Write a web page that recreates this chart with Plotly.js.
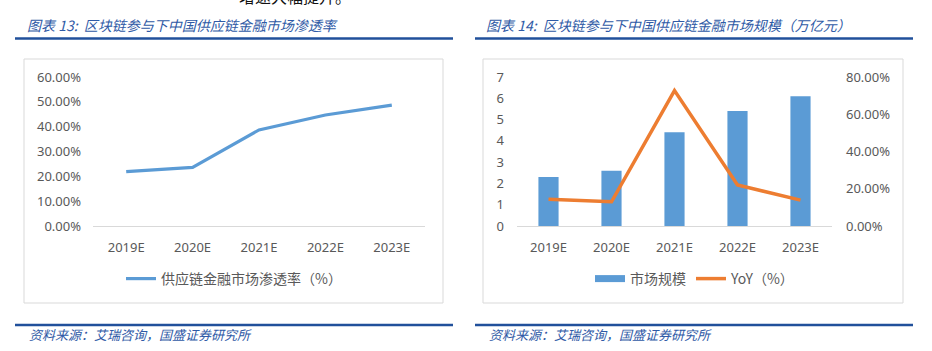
<!DOCTYPE html>
<html>
<head>
<meta charset="utf-8">
<script src="https://cdn.plot.ly/plotly-3.0.1.min.js"></script>
<style>html,body{margin:0;padding:0;background:#fff;}#chart{width:932px;height:351px;}</style>
</head>
<body>
<div id="chart"></div>
<script>
// ---- data ----
const categories = ["2019E", "2020E", "2021E", "2022E", "2023E"];
const penetrationRate = [0.219, 0.236, 0.387, 0.447, 0.487];   // 供应链金融市场渗透率
const marketSize = [2.3, 2.6, 4.4, 5.4, 6.1];                   // 市场规模（万亿元）
const yoy = [0.143, 0.130, 0.727, 0.220, 0.139];                // YoY
const leftTicks = [0, 0.1, 0.2, 0.3, 0.4, 0.5, 0.6];
const rightTicksSize = [0, 1, 2, 3, 4, 5, 6, 7];
const rightTicksYoy = [0, 0.2, 0.4, 0.6, 0.8];
const title13 = "图表 13:  区块链参与下中国供应链金融市场渗透率";
const title14 = "图表 14:  区块链参与下中国供应链金融市场规模（万亿元）";
const sourceText = "资料来源：艾瑞咨询，国盛证券研究所";
const seriesName1 = "供应链金融市场渗透率（%）";
const seriesName2 = "市场规模";
const seriesName3 = "YoY（%）";

const W = 932, H = 351;
const px = v => v / W;
const py = v => 1 - v / H;
const FONT = "Noto Sans, Noto Sans CJK SC, sans-serif";
const CJK = "Noto Sans CJK SC, Noto Sans, sans-serif";
const GRAY = "#595959";
const BLUE = "#5B9BD5";
const ORANGE = "#ED7D31";
const NAVY = "#21509B";
const TITLEBLUE = "#2F5AA6";

const yDom = [py(226), py(77)];
const catRange = [-0.5, categories.length - 0.5];

const traces = [
  {type: "scatter", mode: "lines", x: categories, y: penetrationRate, name: seriesName1,
   xaxis: "x", yaxis: "y", line: {color: BLUE, width: 3.2}, legend: "legend", hoverinfo: "skip"},
  {type: "bar", x: categories, y: marketSize, name: seriesName2, xaxis: "x2", yaxis: "y2",
   marker: {color: BLUE}, showlegend: false, hoverinfo: "skip"},
  {type: "scatter", mode: "lines", x: [null], y: [null], name: seriesName2, xaxis: "x2", yaxis: "y2",
   line: {color: BLUE, width: 7}, legend: "legend2", hoverinfo: "skip"},
  {type: "scatter", mode: "lines", x: categories, y: yoy, name: seriesName3, xaxis: "x2", yaxis: "y3",
   line: {color: ORANGE, width: 3.5}, legend: "legend2", hoverinfo: "skip"}
];

const axisCommon = {showgrid: false, zeroline: false, ticks: "", tickfont: {family: FONT, size: 13, color: GRAY}, fixedrange: true};

const layout = {
  width: W, height: H,
  margin: {l: 0, r: 0, t: 0, b: 0},
  paper_bgcolor: "#fff", plot_bgcolor: "rgba(0,0,0,0)",
  showlegend: true,
  bargap: 0.68,
  xaxis: Object.assign({}, axisCommon, {domain: [px(93), px(425)], anchor: "y", type: "category", range: catRange, showline: true, linecolor: "#D9D9D9", linewidth: 1, ticklabelstandoff: 9}),
  yaxis: Object.assign({}, axisCommon, {domain: yDom, anchor: "x", range: [0, 0.6], tickvals: leftTicks, tickformat: ".2%", ticklabelstandoff: 11}),
  xaxis2: Object.assign({}, axisCommon, {domain: [px(517), px(832)], anchor: "y2", type: "category", range: catRange, showline: true, linecolor: "#D9D9D9", linewidth: 1, ticklabelstandoff: 9}),
  yaxis2: Object.assign({}, axisCommon, {domain: yDom, anchor: "x2", range: [0, 7], tickvals: rightTicksSize, ticklabelstandoff: 12}),
  yaxis3: Object.assign({}, axisCommon, {domain: yDom, anchor: "x2", overlaying: "y2", side: "right", range: [0, 0.8], tickvals: rightTicksYoy, tickformat: ".2%", ticklabelstandoff: 13}),
  legend: {x: px(234), y: py(279), xanchor: "center", yanchor: "middle", orientation: "h",
           bgcolor: "rgba(0,0,0,0)", font: {family: CJK, size: 14, color: GRAY}},
  legend2: {x: px(695), y: py(279), xanchor: "center", yanchor: "middle", orientation: "h",
            bgcolor: "rgba(0,0,0,0)", font: {family: CJK, size: 14, color: GRAY}},
  shapes: [
    {type: "rect", xref: "paper", yref: "paper", x0: px(24), x1: px(443), y0: py(303), y1: py(59), line: {color: "#D9D9D9", width: 1}},
    {type: "rect", xref: "paper", yref: "paper", x0: px(483), x1: px(903), y0: py(303), y1: py(59), line: {color: "#D9D9D9", width: 1}},
    {type: "line", xref: "paper", yref: "paper", x0: px(15), x1: px(453), y0: py(38.5), y1: py(38.5), line: {color: NAVY, width: 2.5}},
    {type: "line", xref: "paper", yref: "paper", x0: px(475), x1: px(913), y0: py(38.5), y1: py(38.5), line: {color: NAVY, width: 2.5}},
    {type: "line", xref: "paper", yref: "paper", x0: px(15), x1: px(453), y0: py(325), y1: py(325), line: {color: NAVY, width: 2.5}},
    {type: "line", xref: "paper", yref: "paper", x0: px(475), x1: px(913), y0: py(325), y1: py(325), line: {color: NAVY, width: 2.5}}
  ],
  annotations: [
    {text: "增速大幅提升。", xref: "paper", yref: "paper", x: px(237), y: py(-4), xanchor: "left", yanchor: "middle",
     showarrow: false, font: {family: CJK, size: 16, color: "#111"}},
    {text: title13, xref: "paper", yref: "paper", x: px(25), y: py(25), xanchor: "left", yanchor: "middle",
     showarrow: false, font: {family: CJK, size: 14, color: TITLEBLUE, style: "italic"}},
    {text: title14, xref: "paper", yref: "paper", x: px(484), y: py(25), xanchor: "left", yanchor: "middle",
     showarrow: false, font: {family: CJK, size: 14, color: TITLEBLUE, style: "italic"}},
    {text: sourceText, xref: "paper", yref: "paper", x: px(27), y: py(334), xanchor: "left", yanchor: "middle",
     showarrow: false, font: {family: CJK, size: 13, color: TITLEBLUE, style: "italic"}},
    {text: sourceText, xref: "paper", yref: "paper", x: px(487), y: py(334), xanchor: "left", yanchor: "middle",
     showarrow: false, font: {family: CJK, size: 13, color: TITLEBLUE, style: "italic"}}
  ]
};

Plotly.newPlot("chart", traces, layout, {staticPlot: true, displayModeBar: false});
</script>
</body>
</html>
